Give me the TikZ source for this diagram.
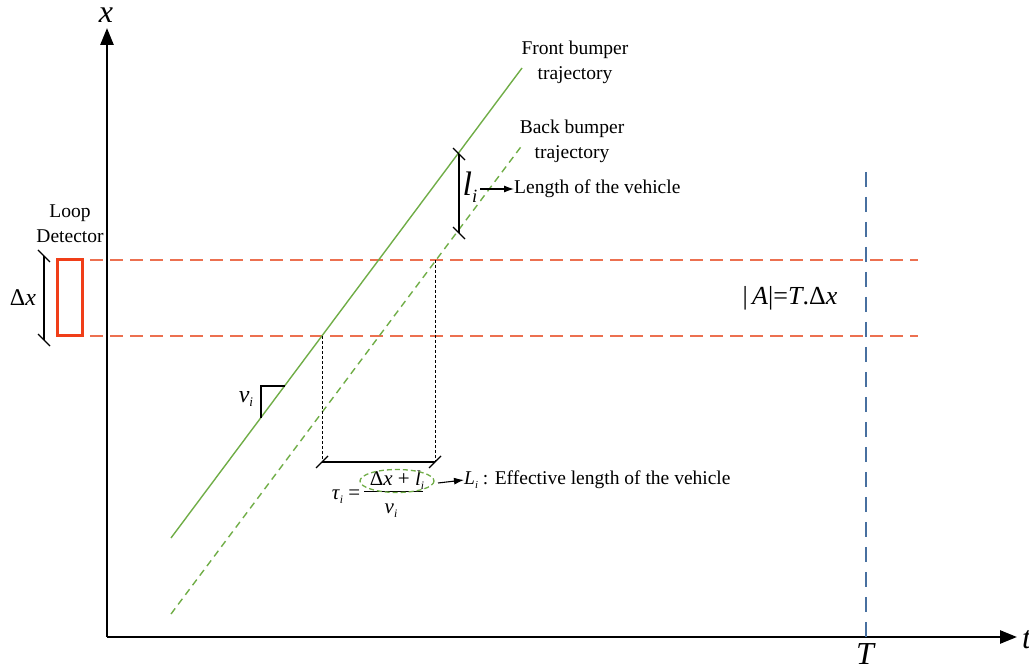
\documentclass[tikz,border=0pt]{standalone}
\usepackage{fontspec}
\usepackage{graphicx}
\setmainfont{Liberation Serif}
\usetikzlibrary{arrows.meta}
\definecolor{trajgreen}{RGB}{112,173,71}
\definecolor{loopred}{RGB}{236,112,80}
\definecolor{boxred}{RGB}{240,62,24}
\definecolor{tblue}{RGB}{72,112,160}
\newcommand{\mi}[1]{\textit{#1}}
\newcommand{\sub}[1]{\raisebox{-0.45ex}{\scalebox{0.55}{\textit{#1}}}}
\tikzset{
  x=1pt, y=-1pt,
  axis/.style={line width=2.6pt, -{Triangle[length=17pt,width=13pt]}},
  lbl/.style={inner sep=0pt, font=\fontsize{19.5}{25}\selectfont, align=center},
  front/.style={trajgreen, line width=1.4pt},
  back/.style={trajgreen, line width=1.4pt, dash pattern=on 7pt off 5pt},
  loopline/.style={loopred, line width=1.6pt, dash pattern=on 13pt off 7pt},
  tline/.style={tblue, line width=1.8pt, dash pattern=on 15pt off 10pt},
  guide/.style={black, line width=0.8pt, dash pattern=on 3pt off 2pt},
  bracket/.style={black, line width=1.3pt},
  pointer/.style={line width=1.1pt, -{Latex[length=10pt,width=7pt]}},
}
\begin{document}
\begin{tikzpicture}
\useasboundingbox (0,0) rectangle (1029,671);
% axes
\coordinate (O) at (107,637);
\coordinate (ytop) at (107,28);
\coordinate (xend) at (1017,637);
\draw[axis] (O) -- (ytop);
\draw[axis] (O) -- (xend);
\node[inner sep=0pt, font=\fontsize{32}{32}\selectfont] (xlab) at (106,15) {\mi{x}};
\node[inner sep=0pt, anchor=west, font=\fontsize{32}{32}\selectfont] (tlab) at (1022,640) {\mi{t}};
% loop detector lines
\coordinate (L1a) at (90,260); \coordinate (L1b) at (918,260);
\coordinate (L2a) at (90,336); \coordinate (L2b) at (918,336);
\draw[loopline] (L1a) -- (L1b);
\draw[loopline] (L2a) -- (L2b);
\coordinate (boxa) at (57,260); \coordinate (boxb) at (82,336);
\draw[boxred, line width=3pt] (boxa) rectangle (boxb);
\node[lbl] (looplab) at (70,224) {Loop\\Detector};
% delta x bracket
\coordinate (dxa) at (44,256); \coordinate (dxb) at (44,340);
\draw[bracket] (dxa) -- (dxb);
\draw[bracket] (dxa) ++(-6,-6) -- ++(12,12);
\draw[bracket] (dxb) ++(-6,-6) -- ++(12,12);
\node[inner sep=0pt, font=\fontsize{24}{24}\selectfont] (dxlab) at (23,298) {Δ\mi{x}};
% T line
\coordinate (Ttop) at (866,172); \coordinate (Tbot) at (866,642);
\draw[tline] (Ttop) -- (Tbot);
\node[inner sep=0pt, font=\fontsize{32}{32}\selectfont] (Tlab) at (866,654) {\mi{T}};
\node[inner sep=0pt, font=\fontsize{26}{26}\selectfont] (area) at (790,298) {|\,\mi{A}|=\mi{T}.Δ\mi{x}};
% trajectories
\coordinate (F1) at (171,538); \coordinate (F2) at (522,68);
\coordinate (B1) at (171,614); \coordinate (B2) at (523,144);
\draw[front] (F1) -- (F2);
\draw[back] (B1) -- (B2);
\node[lbl] (frontlab) at (575,62) {Front bumper\\trajectory};
\node[lbl] (backlab) at (572,141) {Back bumper\\trajectory};
% guides
\coordinate (P1) at (322,336); \coordinate (P1b) at (322,462);
\coordinate (P2) at (435,260); \coordinate (P2b) at (435,462);
\draw[guide] (P1) -- (P1b);
\draw[guide] (P2) -- (P2b);
\draw[bracket] (P1b) -- (P2b);
\draw[bracket] (P1b) ++(-6,6) -- ++(12,-12);
\draw[bracket] (P2b) ++(-6,6) -- ++(12,-12);
% l_i bracket
\coordinate (la) at (459,154); \coordinate (lb) at (459,233);
\draw[bracket] (la) -- (lb);
\draw[bracket] (la) ++(-6,-6) -- ++(12,12);
\draw[bracket] (lb) ++(-6,-6) -- ++(12,12);
\node[inner sep=0pt, font=\fontsize{34}{34}\selectfont] (li) at (470,187) {\mi{l}\sub{i}};
\node[lbl, anchor=west] (lenlab) at (514,189) {Length of the vehicle};
\draw[pointer] (480,189) -- (lenlab.west);
% v_i slope triangle
\coordinate (va) at (261,418); \coordinate (vb) at (261,386); \coordinate (vc) at (285,386);
\draw[black, line width=1.3pt] (va) -- (vb) -- (vc);
\node[inner sep=0pt, font=\fontsize{24}{24}\selectfont] (vlab) at (246,399) {\mi{v}\sub{i}};
% formula
\node[inner sep=0pt, font=\fontsize{21}{21}\selectfont] (tau) at (346,497) {\mi{τ}\sub{i} =};
\node[inner sep=0pt, font=\fontsize{21}{21}\selectfont] (num) at (397,480) {Δ\mi{x} + \mi{l}\sub{i}};
\node[inner sep=0pt, font=\fontsize{21}{21}\selectfont] (den) at (391,511) {\mi{v}\sub{i}};
\coordinate (fa) at (364,491); \coordinate (fb) at (423,491);
\draw[black, line width=0.8pt] (fa) -- (fb);
\draw[trajgreen, line width=1.3pt, dash pattern=on 5pt off 3pt] (397,481) ellipse [x radius=37, y radius=11.5];
\node[lbl, anchor=west] (Llab) at (464,480) {\mi{L}\sub{i} : Effective length of the vehicle};
\draw[pointer] (438,483) -- (Llab.west);
\end{tikzpicture}
\end{document}
